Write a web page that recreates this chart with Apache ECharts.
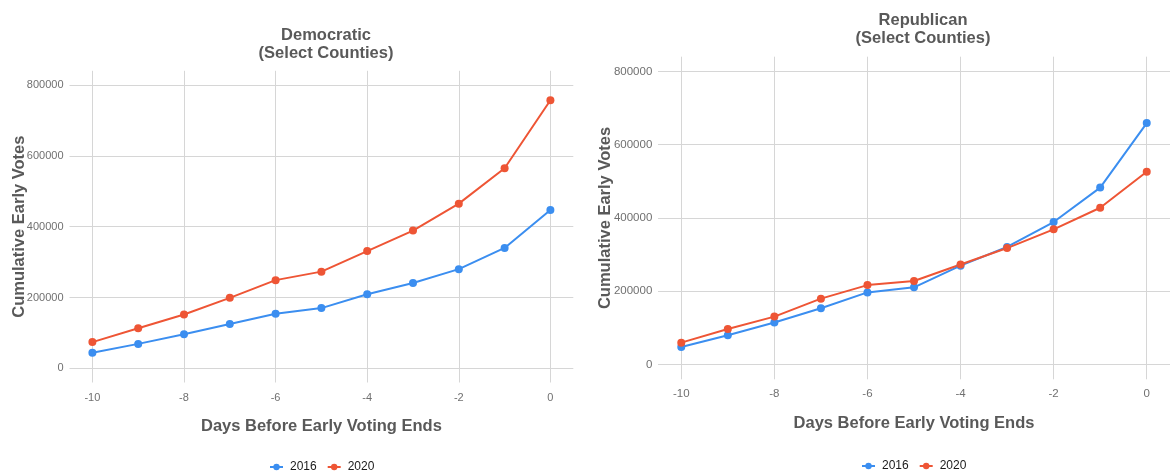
<!DOCTYPE html>
<html>
<head>
<meta charset="utf-8">
<script src="https://cdn.jsdelivr.net/npm/echarts@6/dist/echarts.min.js"></script>
<style>
html,body{margin:0;padding:0;background:#fff;}
#chart{width:1170px;height:471px;}
</style>
</head>
<body>
<div id="chart"></div>
<script>
// ---- data ----
var days = [-10, -9, -8, -7, -6, -5, -4, -3, -2, -1, 0];
var xTicks = [-10, -8, -6, -4, -2, 0];
var yTicks = [0, 200000, 400000, 600000, 800000];
var dem2016 = [44000, 69000, 96000, 125000, 154000, 170000, 209000, 241000, 280000, 340000, 447000];
var dem2020 = [74000, 113000, 152000, 199000, 249000, 273000, 331000, 389000, 465000, 565000, 757000];
var rep2016 = [48000, 80000, 115000, 154000, 197000, 211000, 270000, 321000, 389000, 483000, 659000];
var rep2020 = [60000, 97000, 131000, 180000, 217000, 228000, 273000, 318000, 369000, 428000, 526000];
var seriesNames = ['2016', '2020'];
var panelTitles = ['Democratic\n(Select Counties)', 'Republican\n(Select Counties)'];
var xTitle = 'Days Before Early Voting Ends';
var yTitle = 'Cumulative Early Votes';

var BLUE = '#3b8ef0', RED = '#ee5535';
var GRIDC = '#d6d6d6';
var FONT = 'Liberation Sans';

function pairs(ys) { return days.map(function (d, i) { return [d, ys[i]]; }); }
function plain(v) { return String(v); }

function xAxis(gi, nameGap, labelMargin, fs) {
  return {
    gridIndex: gi, type: 'value', min: -10.5, max: 0.5,
    name: xTitle, nameLocation: 'middle', nameGap: nameGap, nameMoveOverlap: false,
    nameTextStyle: { fontFamily: FONT, fontSize: 16.5, fontWeight: 'bold', color: '#595959' },
    axisLine: { show: false },
    axisTick: { show: false, customValues: xTicks },
    axisLabel: { customValues: xTicks, formatter: plain, margin: labelMargin, fontFamily: FONT, fontSize: fs, color: '#707070' },
    splitLine: { show: true, lineStyle: { color: GRIDC, width: 1 } }
  };
}
function yAxis(gi, nameGap, labelMargin, fs) {
  return {
    gridIndex: gi, type: 'value', min: -40000, max: 840000,
    name: yTitle, nameLocation: 'middle', nameGap: nameGap, nameRotate: 90, nameMoveOverlap: false,
    nameTextStyle: { fontFamily: FONT, fontSize: 16.5, fontWeight: 'bold', color: '#595959' },
    axisLine: { show: false },
    axisTick: { show: false, customValues: yTicks },
    axisLabel: { customValues: yTicks, formatter: plain, margin: labelMargin, fontFamily: FONT, fontSize: fs, color: '#707070' },
    splitLine: { show: true, lineStyle: { color: GRIDC, width: 1 } }
  };
}
function line(name, color, gi, ys) {
  return {
    name: name, type: 'line', xAxisIndex: gi, yAxisIndex: gi,
    data: pairs(ys), symbol: 'circle', symbolSize: 8,
    lineStyle: { color: color, width: 2 }, itemStyle: { color: color },
    emphasis: { disabled: true }, animation: false
  };
}

var chart = echarts.init(document.getElementById('chart'), null, { renderer: 'canvas' });
chart.setOption({
  backgroundColor: '#fff',
  animation: false,
  title: [
    { text: panelTitles[0], left: 321, top: 22, textAlign: 'center',
      textStyle: { fontFamily: FONT, fontSize: 16.5, fontWeight: 'bold', color: '#595959', lineHeight: 17.6 } },
    { text: panelTitles[1], left: 918, top: 6, textAlign: 'center',
      textStyle: { fontFamily: FONT, fontSize: 16.5, fontWeight: 'bold', color: '#595959', lineHeight: 18 } }
  ],
  legend: [
    { data: seriesNames, left: 264, top: 456, itemWidth: 13, itemHeight: 8, itemGap: 10,
      textStyle: { fontFamily: FONT, fontSize: 12, color: '#1a1a1a', padding: [0, 0, 0, 2] } },
    { data: seriesNames, left: 856, top: 455, itemWidth: 13, itemHeight: 8, itemGap: 10,
      textStyle: { fontFamily: FONT, fontSize: 12, color: '#1a1a1a', padding: [0, 0, 0, 2] } }
  ],
  grid: [
    { left: 69.5, top: 70.8, width: 503.8, height: 311.7, containLabel: false },
    { left: 658, top: 56.7, width: 523.5, height: 322.6, containLabel: false }
  ],
  xAxis: [xAxis(0, 35, 10, 11), xAxis(1, 36, 9, 11.5)],
  yAxis: [yAxis(0, 42, 6, 11), yAxis(1, 44, 5.7, 11.5)],
  series: [
    line(seriesNames[0], BLUE, 0, dem2016),
    line(seriesNames[1], RED, 0, dem2020),
    line(seriesNames[0], BLUE, 1, rep2016),
    line(seriesNames[1], RED, 1, rep2020)
  ]
});
</script>
</body>
</html>
